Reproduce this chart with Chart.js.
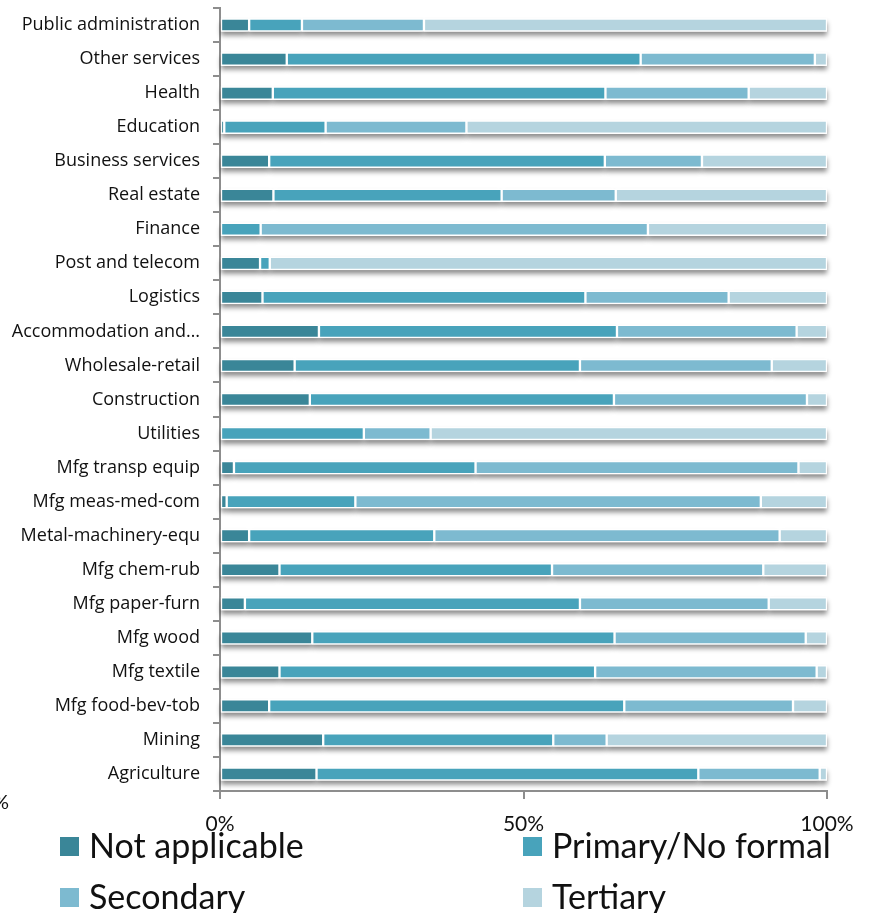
<!DOCTYPE html>
<html>
<head>
<meta charset="utf-8">
<script src="https://cdn.jsdelivr.net/npm/chart.js@4"></script>
<style>
  html, body { margin: 0; padding: 0; background: #fff; }
  #wrap { position: relative; width: 872px; height: 913px; overflow: hidden; }
  #legend {
    position: absolute; left: 60px; top: 819px;
    display: grid; grid-template-columns: 463px auto; grid-auto-rows: 51px;
    font-family: Lato, "Open Sans", sans-serif; font-size: 34px; color: #111;
  }
  .item { display: flex; align-items: center; white-space: nowrap; }
  .box { width: 19px; height: 19px; margin-right: 10px; flex: none; position: relative; top: 2px; }
</style>
</head>
<body>
<div id="wrap">
  <canvas id="edu_chart" width="872" height="913"></canvas>
  <div id="legend"></div>
</div>
<script>
const sectors = ["Public administration", "Other services", "Health", "Education", "Business services",
                 "Real estate", "Finance", "Post and telecom", "Logistics", "Accommodation and…",
                 "Wholesale-retail", "Construction", "Utilities", "Mfg transp equip", "Mfg meas-med-com",
                 "Metal-machinery-equ", "Mfg chem-rub", "Mfg paper-furn", "Mfg wood", "Mfg textile",
                 "Mfg food-bev-tob", "Mining", "Agriculture"];

// share of workers by education level, % of each sector
const notApplicable = [4.8, 11.0, 8.7, 0.7, 8.1, 8.8, 0, 6.6, 7.0, 16.3, 12.3, 14.8, 0, 2.3, 1.1, 4.8, 9.8, 4.1, 15.2, 9.8, 8.1, 17.0, 15.9];
const primary       = [8.7, 58.3, 54.8, 16.7, 55.3, 37.6, 6.7, 1.6, 53.2, 49.1, 47.0, 50.1, 23.7, 39.8, 21.2, 30.5, 44.9, 55.2, 49.8, 52.0, 58.5, 37.9, 62.9];
const secondary     = [20.1, 28.7, 23.6, 23.2, 16.0, 18.8, 63.8, 0, 23.6, 29.6, 31.6, 31.8, 11.0, 53.2, 66.8, 56.9, 34.8, 31.1, 31.5, 36.5, 27.8, 8.8, 20.0];
const tertiary      = [66.4, 2.0, 12.9, 59.4, 20.6, 34.8, 29.5, 91.8, 16.2, 5.0, 9.1, 3.3, 65.3, 4.7, 10.9, 7.8, 10.5, 9.6, 3.5, 1.7, 5.6, 36.3, 1.2];

const seriesNames = ["Not applicable", "Primary/No formal", "Secondary", "Tertiary"];
const seriesColors = ["#3a8698", "#48a3bb", "#7dbad0", "#b5d4df"];
const xTicks = [0, 50, 100];

const axisGray = "#8d8d8d";

// soft drop shadow under every bar segment
const barShadow = {
    id: 'barShadow',
    beforeDatasetsDraw(chart) {
        const ctx = chart.ctx;
        ctx.save();
        ctx.shadowColor = 'rgba(0,0,0,0.45)';
        ctx.shadowBlur = 5;
        ctx.shadowOffsetY = 4;
        ctx.fillStyle = '#ffffff';
        chart.data.datasets.forEach((ds, i) => {
            chart.getDatasetMeta(i).data.forEach(bar => {
                const p = bar.getProps(['x', 'y', 'base', 'height'], true);
                if (Math.abs(p.x - p.base) < 0.5) return;
                ctx.fillRect(Math.min(p.x, p.base), p.y - p.height / 2, Math.abs(p.x - p.base), p.height);
            });
        });
        ctx.restore();
    },
    afterDraw(chart) {
        const ctx = chart.ctx;
        ctx.save();
        ctx.font = '20px Lato, sans-serif';
        ctx.fillStyle = '#111';
        ctx.textAlign = 'right';
        ctx.textBaseline = 'alphabetic';
        ctx.fillText('0%', 9, 809);
        ctx.restore();
    }
};

const datasets = [notApplicable, primary, secondary, tertiary].map((vals, i) => ({
    label: seriesNames[i],
    data: vals,
    backgroundColor: seriesColors[i],
    borderColor: '#ffffff',
    borderWidth: 1.5,
    borderSkipped: false,
    barThickness: 13
}));

const ctx = document.getElementById('edu_chart').getContext('2d');
const chart = new Chart(ctx, {
    type: 'bar',
    data: { labels: sectors, datasets: datasets },
    options: {
        indexAxis: 'y',
        responsive: false,
        animation: false,
        layout: { padding: { top: 8, right: 45, left: 0, bottom: 0 } },
        plugins: {
            legend: { display: false },
            tooltip: { enabled: false }
        },
        scales: {
            x: {
                stacked: true,
                min: 0,
                max: 100,
                afterBuildTicks: scale => { scale.ticks = xTicks.map(v => ({ value: v })); },
                afterFit: scale => { scale.height = 122; },
                ticks: {
                    callback: v => v + '%',
                    font: { family: 'Lato', size: 21 },
                    color: '#111',
                    padding: 13,
                    maxRotation: 0
                },
                grid: { drawOnChartArea: false, tickLength: 8, color: axisGray, lineWidth: 2 },
                border: { color: axisGray, width: 2 }
            },
            y: {
                stacked: true,
                afterFit: scale => {
                    scale.width = 220;
                    scale.paddingTop = 0;
                    scale.paddingBottom = 0;
                },
                ticks: {
                    font: { family: 'Open Sans', size: 18 },
                    color: '#111',
                    padding: 13,
                    autoSkip: false
                },
                grid: { drawOnChartArea: false, offset: true, tickLength: 7, color: axisGray, lineWidth: 2 },
                border: { color: axisGray, width: 2 }
            }
        }
    },
    plugins: [barShadow]
});

// legend in two columns, built from the chart's datasets
const legendDiv = document.getElementById('legend');
chart.data.datasets.forEach(ds => {
    const item = document.createElement('div');
    item.className = 'item';
    const box = document.createElement('span');
    box.className = 'box';
    box.style.background = ds.backgroundColor;
    const txt = document.createElement('span');
    txt.textContent = ds.label;
    item.appendChild(box);
    item.appendChild(txt);
    legendDiv.appendChild(item);
});
</script>
</body>
</html>
